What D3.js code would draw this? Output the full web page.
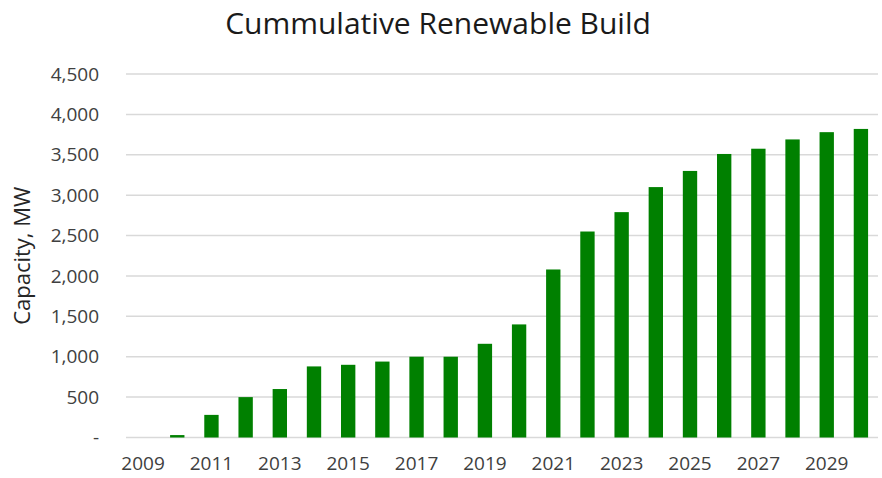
<!DOCTYPE html>
<html>
<head>
<meta charset="utf-8">
<script src="https://cdn.jsdelivr.net/npm/d3@7"></script>
<style>
  body { margin: 0; background: #fff; }
  svg { display: block; font-family: "Open Sans", "DejaVu Sans", sans-serif; }
  .tick text { fill: #404040; font-size: 19px; font-family: "Open Sans", sans-serif; }
</style>
</head>
<body>
<script>
// data
var years = [2009, 2010, 2011, 2012, 2013, 2014, 2015, 2016, 2017, 2018, 2019,
             2020, 2021, 2022, 2023, 2024, 2025, 2026, 2027, 2028, 2029, 2030];
var capacity = [0, 30, 280, 500, 600, 880, 900, 940, 1000, 1000, 1160,
                1400, 2080, 2550, 2790, 3100, 3300, 3510, 3575, 3690, 3780, 3820];
var yTicks = [0, 500, 1000, 1500, 2000, 2500, 3000, 3500, 4000, 4500];
var xLabels = [2009, 2011, 2013, 2015, 2017, 2019, 2021, 2023, 2025, 2027, 2029];

var data = years.map(function (y, i) { return { year: y, value: capacity[i] }; });

var svg = d3.select('body').append('svg')
    .attr('width', 882)
    .attr('height', 478);

var margin = { top: 74, right: 4, bottom: 40.5, left: 126 },
    width = +svg.attr('width') - margin.left - margin.right,
    height = +svg.attr('height') - margin.top - margin.bottom,
    g = svg.append('g').attr('transform', 'translate(' + margin.left + ',' + margin.top + ')');

var x = d3.scaleBand()
    .domain(years)
    .range([0, width])
    .paddingInner(0.58)
    .paddingOuter(0.29);

var y = d3.scaleLinear()
    .domain([0, 4500])
    .range([height, 0]);

// gridlines
g.append('g')
    .selectAll('line')
    .data(yTicks)
    .enter().append('line')
    .attr('x1', 0)
    .attr('x2', width)
    .attr('y1', function (d) { return y(d); })
    .attr('y2', function (d) { return y(d); })
    .attr('stroke', '#d9d9d9')
    .attr('stroke-width', 1.5);

g.selectAll('.bar')
    .data(data)
    .enter().append('rect')
    .attr('class', 'bar')
    .attr('x', function (d) { return x(d.year); })
    .attr('width', x.bandwidth())
    .attr('y', function (d) { return y(d.value); })
    .attr('height', function (d) { return height - y(d.value); })
    .attr('fill', '#008000');

var fmt = d3.format(',');

var yAxis = g.append('g')
    .call(d3.axisLeft(y)
        .tickValues(yTicks)
        .tickSize(0)
        .tickPadding(27)
        .tickFormat(function (d) { return d === 0 ? '-' : fmt(d); }));
yAxis.select('.domain').remove();

var xAxis = g.append('g')
    .attr('transform', 'translate(0,' + height + ')')
    .call(d3.axisBottom(x)
        .tickValues(xLabels)
        .tickSize(0)
        .tickPadding(19));
xAxis.select('.domain').remove();

svg.append('text')
    .attr('transform', 'translate(22,' + (margin.top + height / 2) + ') rotate(-90)')
    .attr('dy', '0.35em')
    .attr('text-anchor', 'middle')
    .attr('fill', '#262626')
    .style('font-size', '22px')
    .text('Capacity, MW');

svg.append('text')
    .attr('x', 438)
    .attr('y', 34)
    .attr('text-anchor', 'middle')
    .attr('fill', '#1a1a1a')
    .style('font-size', '30px')
    .text('Cummulative Renewable Build');
</script>
</body>
</html>
